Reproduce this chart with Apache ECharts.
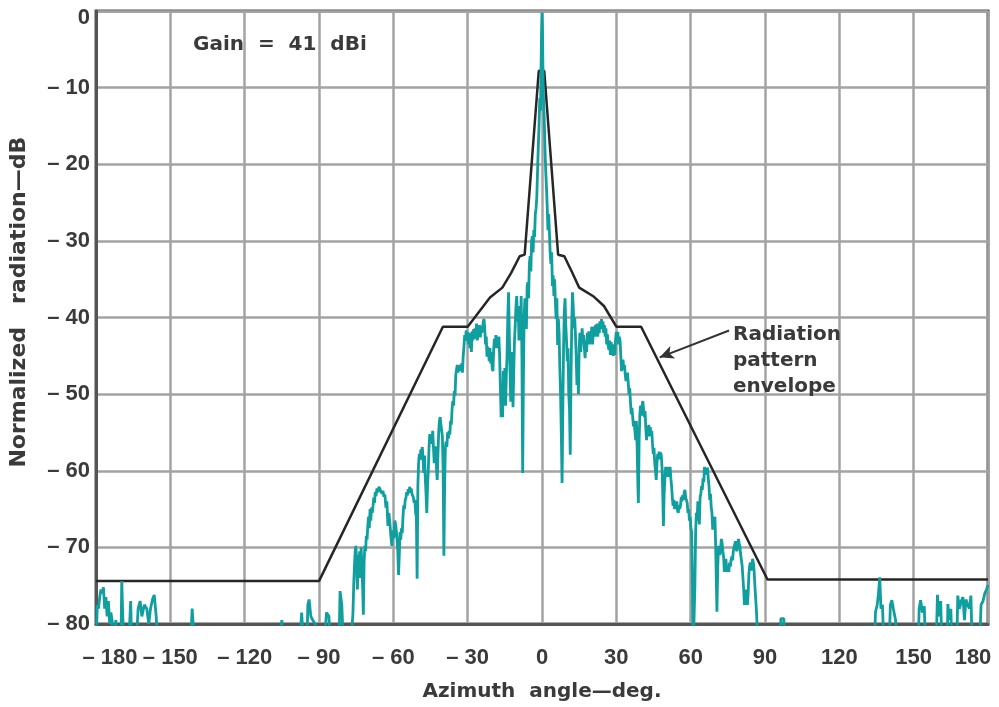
<!DOCTYPE html>
<html>
<head>
<meta charset="utf-8">
<script src="https://cdn.jsdelivr.net/npm/echarts@6/dist/echarts.min.js"></script>
<style>
html,body{margin:0;padding:0;background:#fff;}
#chart{width:999px;height:707px;}
</style>
</head>
<body>
<div id="chart"></div>
<script>
// Radiation pattern envelope [deg, dB]
var envelope = [[-180,-74.4],[-90,-74.4],[-40,-41.2],[-30,-41.2],[-26,-39.5],[-21,-37.4],[-16,-36.1],[-12.5,-34.2],[-9,-32],[-7,-31.8],[-1.3,-7.8],[0.9,-7.8],[6.5,-31.8],[9,-32],[12,-34],[15,-36.1],[17,-36.5],[21,-37.3],[25,-38.5],[30,-41.2],[40,-41.2],[91,-74.2],[180,-74.2]];

// Measured pattern [deg, dB]; -84 = below the -80 floor
var measFarLeft = [[-180,-84],[-179.5,-77.5],[-179,-78],[-178.5,-76.5],[-178,-75.5],[-177.5,-76],[-177,-75.2],[-176.5,-78],[-176,-76.5],[-175.5,-79],[-175,-77],[-174.5,-80],[-174,-78.5],[-173.5,-79.5],[-173,-84],[-172,-79.5],[-171,-84],[-170,-84],[-169.6,-74.4],[-169.2,-79],[-168.5,-84],[-167,-84],[-166,-77],[-165.5,-84],[-164,-84],[-163,-78],[-162.2,-77],[-161.5,-79],[-160.5,-77.5],[-159.5,-78],[-158.7,-80],[-158,-78],[-157.2,-76.8],[-156.5,-76.2],[-155.7,-79],[-155,-84],
[-142,-84],[-141.2,-78],[-140.5,-78],[-140,-84],[-106,-84],[-105,-79.5],[-104.5,-84],[-98,-84],[-97,-78.5],[-96,-84],[-95,-84],[-94.5,-77.5],[-94,-76.8],[-93.3,-79],[-92.5,-79.5],[-91.5,-80],[-90.5,-84],[-88,-84],[-87,-78.5],[-86,-79],[-85,-84],[-82,-84],[-81.5,-75.7],[-80.8,-77.5],[-80,-84]];

var measLeftShoulder = [[-77,-84],[-76.6,-80],[-76.3,-78.6],[-76,-75],[-75.7,-72.5],[-75.4,-70.5],[-75.1,-69.8],[-74.8,-72],[-74.5,-75.5],[-74.2,-71],[-73.9,-73],[-73.6,-70.5],[-73.3,-74],[-73,-70],[-72.7,-69.8],[-72.4,-75],[-72.1,-78.8],[-71.8,-72],[-71.5,-69.8],[-71.2,-70.5],[-70.9,-68.5],[-70.6,-69],[-70.3,-67.2],[-70,-66],[-69.7,-67.5],[-69.4,-65],[-69.1,-66.5],[-68.8,-64.8],[-68.5,-65.5],[-68.2,-64.6],[-67.9,-63.5],[-67.6,-64.2],[-67.3,-62.8],[-67,-63.3],[-66.6,-62.3],[-66.2,-62.8],[-65.8,-62.1],[-65.4,-62.4],[-65,-62.2],[-64.6,-63],[-64.2,-62.6],[-63.8,-63.4],[-63.4,-63.1],[-63,-64.8],[-62.6,-64],[-62.2,-67.2],[-61.8,-65.5],[-61.4,-66.8],[-61,-68.5],[-60.6,-69.8],[-60.2,-67.8],[-59.8,-68.8],[-59.4,-66.5],[-59,-67.2],[-58.6,-68.5],[-58.2,-70.5],[-57.9,-73.6],[-57.6,-71],[-57.3,-68],[-57,-69],[-56.7,-67.5],[-56.4,-68.1],[-56.1,-66],[-55.8,-64.5],[-55.5,-65],[-55.2,-63.8],[-54.9,-63.5],[-54.6,-62.8],[-54.3,-63.2],[-54,-62.4],[-53.7,-62.9],[-53.4,-62.1],[-53.1,-62.6],[-52.8,-62.3],[-52.5,-63],[-52.2,-62.8],[-51.9,-63.5],[-51.6,-64.2],[-51.3,-63.8],[-51,-65.5],[-50.7,-66],[-50.4,-74.1],[-50.1,-62],[-49.8,-59],[-49.5,-57.8],[-49.2,-58.6],[-48.9,-57.2],[-48.6,-58],[-48.3,-56.9],[-48,-58.5],[-47.7,-60.3],[-47.4,-58],[-47.1,-61],[-46.8,-63],[-46.5,-65.5],[-46.2,-62],[-45.9,-60],[-45.6,-57],[-45.3,-55.2],[-45,-56.5],[-44.7,-55.6],[-44.4,-56.2],[-44.1,-54.8],[-43.8,-57],[-43.5,-59],[-43.2,-58],[-42.9,-56.8],[-42.6,-59.5],[-42.3,-61.2],[-42,-58],[-41.7,-55],[-41.4,-53.5],[-41.1,-53],[-40.8,-54],[-40.5,-53.8],[-40.2,-55.5],[-39.9,-60],[-39.6,-71.1],[-39.3,-62],[-39,-57],[-38.7,-56.2],[-38.4,-56.9],[-38.1,-55],[-37.8,-55.8],[-37.5,-54.8],[-37.2,-55.3],[-36.9,-53.5],[-36.6,-54],[-36.3,-52],[-36,-50.9],[-35.7,-51.5],[-35.4,-49.6],[-35.1,-50.2],[-34.8,-47.5],[-34.5,-46.8],[-34.2,-46.2],[-33.9,-47.2],[-33.6,-46.5],[-33.3,-47],[-33,-46.2],[-32.7,-47],[-32.4,-46],[-32.1,-47.2],[-31.8,-45],[-31.5,-43.8],[-31.2,-42.3],[-30.9,-43],[-30.6,-41.7],[-30.3,-42.5]];

var measMainLobe = [[-30,-41.9],[-29.7,-43.5],[-29.4,-42],[-29.1,-44],[-28.8,-42.5],[-28.5,-44.5],[-28.2,-41.8],[-27.9,-43],[-27.6,-41.5],[-27.3,-42.8],[-27,-41.4],[-26.7,-42],[-26.4,-40.8],[-26.1,-43],[-25.8,-41.6],[-25.5,-42.3],[-25.2,-41],[-24.9,-42.6],[-24.6,-41.2],[-24.3,-42],[-24,-41.4],[-23.7,-40.5],[-23.4,-40.2],[-23.1,-41.5],[-22.8,-43.5],[-22.5,-42.5],[-22.2,-45.1],[-21.9,-43.8],[-21.6,-44.6],[-21.3,-45.7],[-21,-44],[-20.7,-46],[-20.4,-44.5],[-20.1,-46.6],[-19.8,-47],[-19.5,-44.2],[-19.2,-42.8],[-18.9,-43.8],[-18.6,-42.3],[-18.3,-44],[-18,-42.7],[-17.7,-43.6],[-17.4,-42.5],[-17.1,-45],[-16.8,-49],[-16.5,-53],[-16.2,-50.5],[-15.9,-53],[-15.6,-47],[-15.3,-49.5],[-15,-46.6],[-14.7,-51.5],[-14.4,-47.5],[-14.1,-45],[-13.8,-40],[-13.5,-36.7],[-13.2,-42],[-12.9,-47],[-12.6,-51],[-12.3,-46],[-12,-44.5],[-11.7,-51.7],[-11.4,-47],[-11.1,-43],[-10.8,-41],[-10.5,-38.5],[-10.2,-37.2],[-9.9,-40.5],[-9.6,-38.5],[-9.3,-43],[-9,-38.9],[-8.7,-42],[-8.4,-37.2],[-8.1,-45],[-7.8,-60.3],[-7.5,-48],[-7.2,-40],[-6.9,-37.5],[-6.6,-39],[-6.3,-41.5],[-6,-36],[-5.7,-35.4],[-5.4,-37.5],[-5.1,-33],[-4.8,-32],[-4.5,-34],[-4.2,-30],[-3.9,-29.4],[-3.6,-31.5],[-3.3,-28.6],[-3,-29.5],[-2.7,-26.5],[-2.4,-25.8],[-2.1,-24.3],[-1.8,-21],[-1.5,-17.8],[-1.2,-15],[-0.9,-11.4],[-0.6,-13],[-0.4,-8],[-0.2,-3],[0,-0.2],
[0.2,-2.5],[0.4,-8],[0.6,-11.4],[0.9,-14],[1.2,-18],[1.5,-20.8],[1.8,-23],[2.1,-25.5],[2.4,-28.6],[2.7,-26.5],[3,-29],[3.3,-31.6],[3.6,-33],[3.9,-31.5],[4.2,-35.9],[4.5,-34.5],[4.8,-37.2],[5.1,-35],[5.4,-38],[5.7,-40.2],[6,-37.5],[6.3,-43.6],[6.6,-40.2],[6.9,-42],[7.2,-46.6],[7.5,-50],[7.8,-55.2],[8.1,-61.6],[8.4,-52],[8.7,-44],[9,-39.3],[9.3,-37.5],[9.6,-41],[9.9,-43],[10.2,-45.7],[10.5,-44],[10.8,-50],[11.1,-52],[11.4,-57.9],[11.7,-48],[12,-41],[12.3,-36.7],[12.6,-38.5],[12.9,-41.4],[13.2,-40],[13.5,-42.3],[13.8,-45],[14.1,-48.8],[14.4,-46],[14.7,-50],[15,-44],[15.3,-42],[15.6,-44.5],[15.9,-43],[16.2,-41.4],[16.5,-43.2],[16.8,-42.3],[17.1,-44],[17.4,-45.3],[17.7,-43],[18,-44.5],[18.3,-42],[18.6,-43.2],[18.9,-41.8],[19.2,-43.5],[19.5,-41.9],[19.8,-42.6],[20.1,-41.2],[20.4,-43.5],[20.7,-42],[21,-41.2],[21.3,-42.5],[21.6,-41],[21.9,-42.2],[22.2,-40.8],[22.5,-42.5],[22.8,-41.2],[23.1,-42],[23.4,-40.5],[23.7,-41.5],[24,-40.2],[24.3,-41.3],[24.6,-40.5],[24.9,-42],[25.2,-41],[25.5,-42.5],[25.8,-41.4],[26.1,-43.5],[26.4,-42.2],[26.7,-43.7],[27,-44.2],[27.3,-43],[27.6,-44.9],[27.9,-43.2],[28.2,-44.3],[28.5,-43.5],[28.8,-45],[29.1,-44],[29.4,-44.9],[29.7,-42.8],[30,-41.9]];

var measRightShoulder = [[30.3,-42.5],[30.6,-41.9],[30.9,-43.5],[31.2,-42.5],[31.5,-43],[31.8,-45],[32.1,-47],[32.4,-46],[32.7,-45.5],[33,-46.8],[33.3,-46.2],[33.6,-47.5],[33.9,-48.3],[34.2,-47.5],[34.5,-47.2],[34.8,-48.5],[35.1,-50],[35.4,-49.2],[35.7,-51],[36,-52.6],[36.3,-51.8],[36.6,-53],[36.9,-54.2],[37.2,-53.5],[37.5,-54.8],[37.8,-56],[38.1,-53.5],[38.4,-57],[38.7,-62],[38.9,-64.2],[39.2,-56],[39.5,-52.6],[39.8,-51.5],[40.1,-52.8],[40.4,-51.5],[40.7,-50.9],[41,-52],[41.3,-53],[41.6,-52.2],[41.9,-54.5],[42.2,-56],[42.5,-54.5],[42.8,-55.2],[43.1,-54],[43.4,-55.5],[43.7,-54.3],[44,-55.5],[44.3,-54.8],[44.6,-56.5],[44.9,-57.8],[45.2,-57],[45.5,-59],[45.8,-60],[46.1,-61.2],[46.4,-59],[46.7,-57.8],[47,-58.2],[47.3,-57.5],[47.6,-58.5],[47.9,-57.6],[48.2,-58.2],[48.5,-60],[48.8,-64],[49,-67.2],[49.3,-63],[49.6,-61],[49.9,-59.5],[50.2,-60.5],[50.5,-59.5],[50.8,-60.8],[51.1,-59.5],[51.4,-60.3],[51.7,-59.5],[52,-61],[52.3,-62],[52.6,-63.5],[52.9,-64.6],[53.2,-63.8],[53.5,-65],[53.8,-64.2],[54.1,-64.8],[54.4,-64],[54.7,-65.2],[55,-65.5],[55.3,-64.5],[55.6,-65],[55.9,-64.5],[56.2,-63.4],[56.5,-64],[56.8,-63.2],[57.1,-63.8],[57.4,-62.8],[57.7,-62.5],[58,-63.5],[58.3,-63.4],[58.6,-64.2],[58.9,-65.5],[59.2,-65],[59.5,-66.5],[59.8,-66],[60.1,-67.5],[60.4,-68],[60.7,-74],[61,-84],[61.4,-84],[61.7,-75],[62,-68],[62.3,-65.5],[62.6,-66.5],[62.9,-64],[63.2,-65],[63.5,-67],[63.8,-63.5],[64.1,-63],[64.4,-62],[64.7,-62.5],[65,-61],[65.3,-61.5],[65.6,-59.5],[65.9,-60.5],[66.2,-59.8],[66.5,-60.5],[66.8,-59.6],[67.1,-61],[67.4,-62],[67.7,-63.8],[68,-63],[68.3,-64.8],[68.6,-65.5],[68.9,-67.7],[69.2,-66.5],[69.5,-67],[69.8,-66],[70.1,-70],[70.4,-75],[70.6,-78.4],[70.9,-73],[71.2,-69.8],[71.5,-70.5],[71.8,-71],[72.1,-70],[72.4,-68.9],[72.7,-69.5],[73,-70.5],[73.3,-71.2],[73.6,-73.2],[73.9,-72],[74.2,-71.5],[74.5,-72.5],[74.8,-73.2],[75.1,-72.8],[75.4,-73.2],[75.7,-72],[76,-72.5],[76.3,-71.7],[76.6,-71.2],[76.9,-71.7],[77.2,-70.5],[77.5,-70],[77.8,-69.8],[78.1,-69.2],[78.4,-70.2],[78.7,-70.5],[79,-69.5],[79.3,-68.9],[79.6,-69.5],[79.9,-70],[80.2,-71],[80.5,-71.2],[80.8,-72.5],[81.1,-74],[81.4,-75.5],[81.7,-77.5],[82,-76.5],[82.3,-75.5],[82.6,-76],[82.9,-77.5],[83.2,-76],[83.5,-73.5],[83.8,-72.4],[84.1,-72],[84.4,-73],[84.7,-72.5],[85,-71.5],[85.3,-72],[85.6,-73],[85.9,-74.9],[86.2,-76.5],[86.5,-78],[86.8,-80],[87.1,-84]];

var measFarRight = [[96,-84],[96.4,-79.3],[97,-79.5],[97.6,-79.3],[98.1,-84],[134,-84],[134.6,-78.4],[135.3,-77.5],[135.8,-76],[136.3,-73.9],[136.8,-78],[137.4,-77.5],[138.1,-84],[140,-84],[140.6,-77.5],[141.2,-76.9],[141.8,-78],[142.7,-79.5],[143.3,-84],[151.8,-84],[152.2,-78],[152.8,-76.9],[153.5,-78.5],[154.3,-77.7],[154.8,-84],[159,-84],[159.6,-76.2],[160.3,-79],[160.9,-77],[161.5,-84],[163.5,-84],[163.8,-77.4],[164.4,-79.5],[165,-78],[165.5,-84],[167.3,-84],[167.8,-76.3],[168.5,-78],[169.2,-77],[169.9,-76.5],[170.5,-79.5],[171.1,-76.8],[171.8,-77.5],[172.5,-78],[173.1,-76.3],[173.7,-84],[176.5,-84],[177.2,-77.5],[178,-77],[178.7,-76],[179.4,-75.5],[180,-74.9]];

var txt = '#3a3a3a';
var numFont = '"Liberation Sans", Arial, sans-serif';
var wordFont = '"DejaVu Sans", sans-serif';

function dash(v) { return v < 0 ? '\u2013 ' + Math.abs(v) : String(v); }
function xLabel(v) {
  if (v === -180) return '{mn|' + dash(v) + '}';
  if (v === 180) return '{mx|' + dash(v) + '}';
  return dash(v);
}
function yLabel(v) {
  if (v === 0) return '{top|0}';
  return dash(v);
}
var lblBase = {fontSize: 22, fontWeight: 'bold', color: txt, fontFamily: numFont};

var measured = [].concat(measFarLeft, measLeftShoulder, measMainLobe, measRightShoulder, measFarRight);

var chart = echarts.init(document.getElementById('chart'), null, {renderer: 'canvas'});
chart.setOption({
  animation: false,
  backgroundColor: '#ffffff',
  grid: {left: 96, right: 11, top: 11, bottom: 75, show: true, borderColor: '#555', borderWidth: 3, backgroundColor: 'transparent'},
  xAxis: {
    type: 'value', min: -180, max: 180, interval: 30,
    name: 'Azimuth  angle\u2014deg.', nameLocation: 'middle', nameGap: 58,
    nameTextStyle: {fontSize: 20, fontWeight: 'bold', color: txt, fontFamily: wordFont},
    axisLine: {show: true, onZero: false, lineStyle: {color: '#555', width: 3}},
    axisTick: {show: false},
    splitLine: {show: true, lineStyle: {color: '#a3a3a3', width: 2.5}},
    axisLabel: Object.assign({margin: 23, formatter: xLabel,
      rich: {
        mn: Object.assign({padding: [0, 0, 0, 28]}, lblBase),
        mx: Object.assign({padding: [0, 30, 0, 0]}, lblBase)
      }}, lblBase)
  },
  yAxis: {
    type: 'value', min: -80, max: 0, interval: 10,
    name: '    Normalized   radiation\u2014dB', nameLocation: 'middle', nameGap: 66, nameRotate: 90,
    nameTextStyle: {fontSize: 22, fontWeight: 'bold', color: txt, fontFamily: wordFont},
    axisLine: {show: true, onZero: false, lineStyle: {color: '#555', width: 3}},
    axisTick: {show: false},
    splitLine: {show: true, lineStyle: {color: '#a3a3a3', width: 2.5}},
    axisLabel: Object.assign({margin: 6, formatter: yLabel,
      rich: {
        top: Object.assign({padding: [14, 0, 0, 0]}, lblBase)
      }}, lblBase)
  },
  series: [
    {
      name: 'Radiation pattern envelope', type: 'line', data: envelope,
      showSymbol: false, symbol: 'none', clip: true, z: 3,
      lineStyle: {color: '#262626', width: 2.5},
      markLine: {
        silent: true, symbol: ['none', 'arrow'], symbolSize: [10, 14],
        label: {show: false},
        lineStyle: {color: '#333', width: 2, type: 'solid'},
        data: [[{coord: [75.5, -41.7]}, {coord: [47.5, -45.2]}]]
      }
    },
    {
      name: 'Measured', type: 'line', data: measured,
      showSymbol: false, symbol: 'none', clip: true, z: 4,
      lineStyle: {color: '#109e9e', width: 2.8}
    }
  ],
  graphic: [
    {type: 'text', left: 193, top: 35, z: 10,
     style: {text: 'Gain  =  41  dBi', font: 'bold 20px ' + wordFont, fill: txt}},
    {type: 'text', left: 733, top: 322, z: 10,
     style: {text: 'Radiation\npattern\nenvelope', font: 'bold 20px ' + wordFont, fill: txt, lineHeight: 26}}
  ]
});
</script>
</body>
</html>
